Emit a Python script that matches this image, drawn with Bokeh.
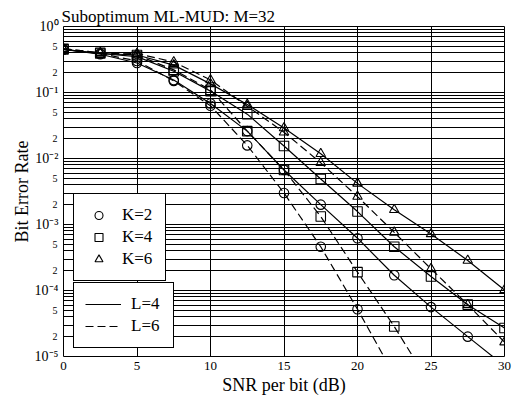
from bokeh.plotting import figure
from bokeh.models import (FixedTicker, CustomJSTickFormatter, Legend, LegendItem,
                          Range1d, Title, LogAxis, Grid)
from bokeh.embed import file_html
from bokeh.resources import INLINE

# ---- data ----
snr_db = [0, 2.5, 5, 7.5, 10, 12.5, 15, 17.5, 20, 22.5, 25, 27.5, 30]

ber_k2_l4 = [0.45, 0.38, 0.28, 0.155, 0.068, 0.026, 6.7e-3, 2.0e-3, 6.2e-4, 1.7e-4, 5.6e-5, 2.0e-5, 7.2e-6]
ber_k2_l6 = [0.45, 0.39, 0.30, 0.15, 0.063, 0.0158, 3.0e-3, 4.6e-4, 5.2e-5, 5.2e-6]
ber_k4_l4 = [0.45, 0.39, 0.35, 0.21, 0.105, 0.047, 0.0155, 4.9e-3, 1.57e-3, 4.6e-4, 1.63e-4, 6.1e-5, 2.7e-5]
ber_k4_l6 = [0.46, 0.40, 0.37, 0.22, 0.11, 0.026, 6.7e-3, 1.32e-3, 1.9e-4, 2.85e-5, 3.6e-6]
ber_k6_l4 = [0.45, 0.39, 0.37, 0.26, 0.135, 0.066, 0.029, 0.0118, 4.2e-3, 1.67e-3, 7.2e-4, 2.85e-4, 1.02e-4]
ber_k6_l6 = [0.46, 0.40, 0.39, 0.29, 0.155, 0.062, 0.025, 8.6e-3, 2.65e-3, 7.6e-4, 2.13e-4, 6.1e-5, 1.65e-5]

x_ticks = [0, 5, 10, 15, 20, 25, 30]
y_major = [1e-5, 1e-4, 1e-3, 1e-2, 1e-1, 1.0]
y_minor_vals = [m * 10.0 ** e for e in range(-5, 0) for m in (2, 5)]
y_grid = [m * 10.0 ** e for e in range(-5, 0) for m in range(1, 10)] + [1.0]

title_text = "Suboptimum ML-MUD: M=32"
x_label = "SNR per bit (dB)"
y_label = "Bit Error Rate"

SERIF = "Liberation Serif"

p = figure(width=523, height=399, y_axis_type="log", y_axis_location=None,
           x_range=Range1d(0, 30), y_range=Range1d(1e-5, 1),
           output_backend="svg", toolbar_location=None,
           min_border_left=63, min_border_right=19,
           min_border_top=26, min_border_bottom=43)

p.title = Title(text=title_text, text_font=SERIF, text_font_size="17px",
                text_font_style="normal", text_color="black",
                align="left", standoff=1, offset=-2)

p.background_fill_color = "white"
p.border_fill_color = "white"
p.outline_line_color = "black"
p.outline_line_width = 1

# inner left axis: small "5" / "2" labels
minor_axis = LogAxis(ticker=FixedTicker(ticks=y_minor_vals, minor_ticks=[]),
                     formatter=CustomJSTickFormatter(code="""
return String(Math.round(tick / Math.pow(10, Math.floor(Math.log10(tick) + 1e-9))));
"""))
# outer left axis: decade labels 10^k
major_axis = LogAxis(ticker=FixedTicker(ticks=y_major, minor_ticks=[]),
                     formatter=CustomJSTickFormatter(code="""
const e = Math.round(Math.log10(tick));
const sup = {"0":"\\u2070","1":"\\u00b9","2":"\\u00b2","3":"\\u00b3","4":"\\u2074",
             "5":"\\u2075","-":"\\u207b"};
return "10" + String(e).split("").map(c => sup[c]).join("");
"""))
p.add_layout(minor_axis, "left")
p.add_layout(major_axis, "left")

p.xaxis.ticker = FixedTicker(ticks=x_ticks, minor_ticks=[])

for ax in (p.xaxis[0], major_axis, minor_axis):
    ax.axis_line_color = None
    ax.major_tick_out = 0
    ax.major_tick_in = 0
    ax.minor_tick_out = 0
    ax.minor_tick_in = 0
    ax.major_label_text_font = SERIF
    ax.major_label_text_color = "black"
    ax.axis_label_text_font = SERIF
    ax.axis_label_text_font_style = "normal"
    ax.axis_label_text_font_size = "18px"
    ax.axis_label_text_color = "black"

minor_axis.major_label_text_font_size = "10px"
minor_axis.major_label_standoff = 6
major_axis.major_label_text_font_size = "14px"
major_axis.major_label_standoff = -9
major_axis.axis_label = y_label
major_axis.axis_label_standoff = 0

p.xaxis.major_label_text_font_size = "13px"
p.xaxis.major_label_standoff = 5
p.xaxis.axis_label = x_label
p.xaxis.axis_label_standoff = 2

# grids
p.xgrid.ticker = FixedTicker(ticks=x_ticks, minor_ticks=[])
if len(p.ygrid) == 0:
    p.add_layout(Grid(dimension=1, ticker=FixedTicker(ticks=y_grid, minor_ticks=[])))
else:
    p.ygrid.ticker = FixedTicker(ticks=y_grid, minor_ticks=[])
for g in list(p.xgrid) + list(p.ygrid):
    g.grid_line_color = "black"
    g.grid_line_alpha = 1.0
    g.grid_line_width = 1

# series
series = [
    (ber_k2_l4, "circle", "solid"),
    (ber_k2_l6, "circle", "dashed"),
    (ber_k4_l4, "square", "solid"),
    (ber_k4_l6, "square", "dashed"),
    (ber_k6_l4, "triangle", "solid"),
    (ber_k6_l6, "triangle", "dashed"),
]
lines = {}
marks = {}
for ber, marker, dash in series:
    xs = snr_db[:len(ber)]
    ln = p.line(xs, ber, line_color="black", line_width=1.2,
                line_dash=("solid" if dash == "solid" else "8 4"))
    sc = p.scatter(xs, ber, marker=marker, size=9.5, line_color="black",
                   line_width=1.1, fill_color=None)
    lines[(marker, dash)] = ln
    marks[(marker, dash)] = sc

leg_k = Legend(items=[
    LegendItem(label="K=2", renderers=[marks[("circle", "solid")]]),
    LegendItem(label="K=4", renderers=[marks[("square", "solid")]]),
    LegendItem(label="K=6", renderers=[marks[("triangle", "solid")]]),
], location=(10, 75))
leg_l = Legend(items=[
    LegendItem(label="L=4", renderers=[lines[("circle", "solid")]]),
    LegendItem(label="L=6", renderers=[lines[("circle", "dashed")]]),
], location=(10, 8))

for lg, gw, lw in ((leg_k, 27, 32), (leg_l, 36, 31)):
    lg.border_line_color = "black"
    lg.border_line_width = 1
    lg.border_line_alpha = 1
    lg.background_fill_color = "white"
    lg.background_fill_alpha = 1
    lg.label_text_font = SERIF
    lg.label_text_font_size = "17px"
    lg.label_text_color = "black"
    lg.glyph_width = gw
    lg.glyph_height = 20
    lg.label_height = 20
    lg.label_width = lw
    lg.label_standoff = 10
    lg.padding = 11
    lg.spacing = 2
    lg.margin = 0
p.add_layout(leg_k)
p.add_layout(leg_l)

open("out.html", "w", encoding="utf-8").write(file_html(p, INLINE))
